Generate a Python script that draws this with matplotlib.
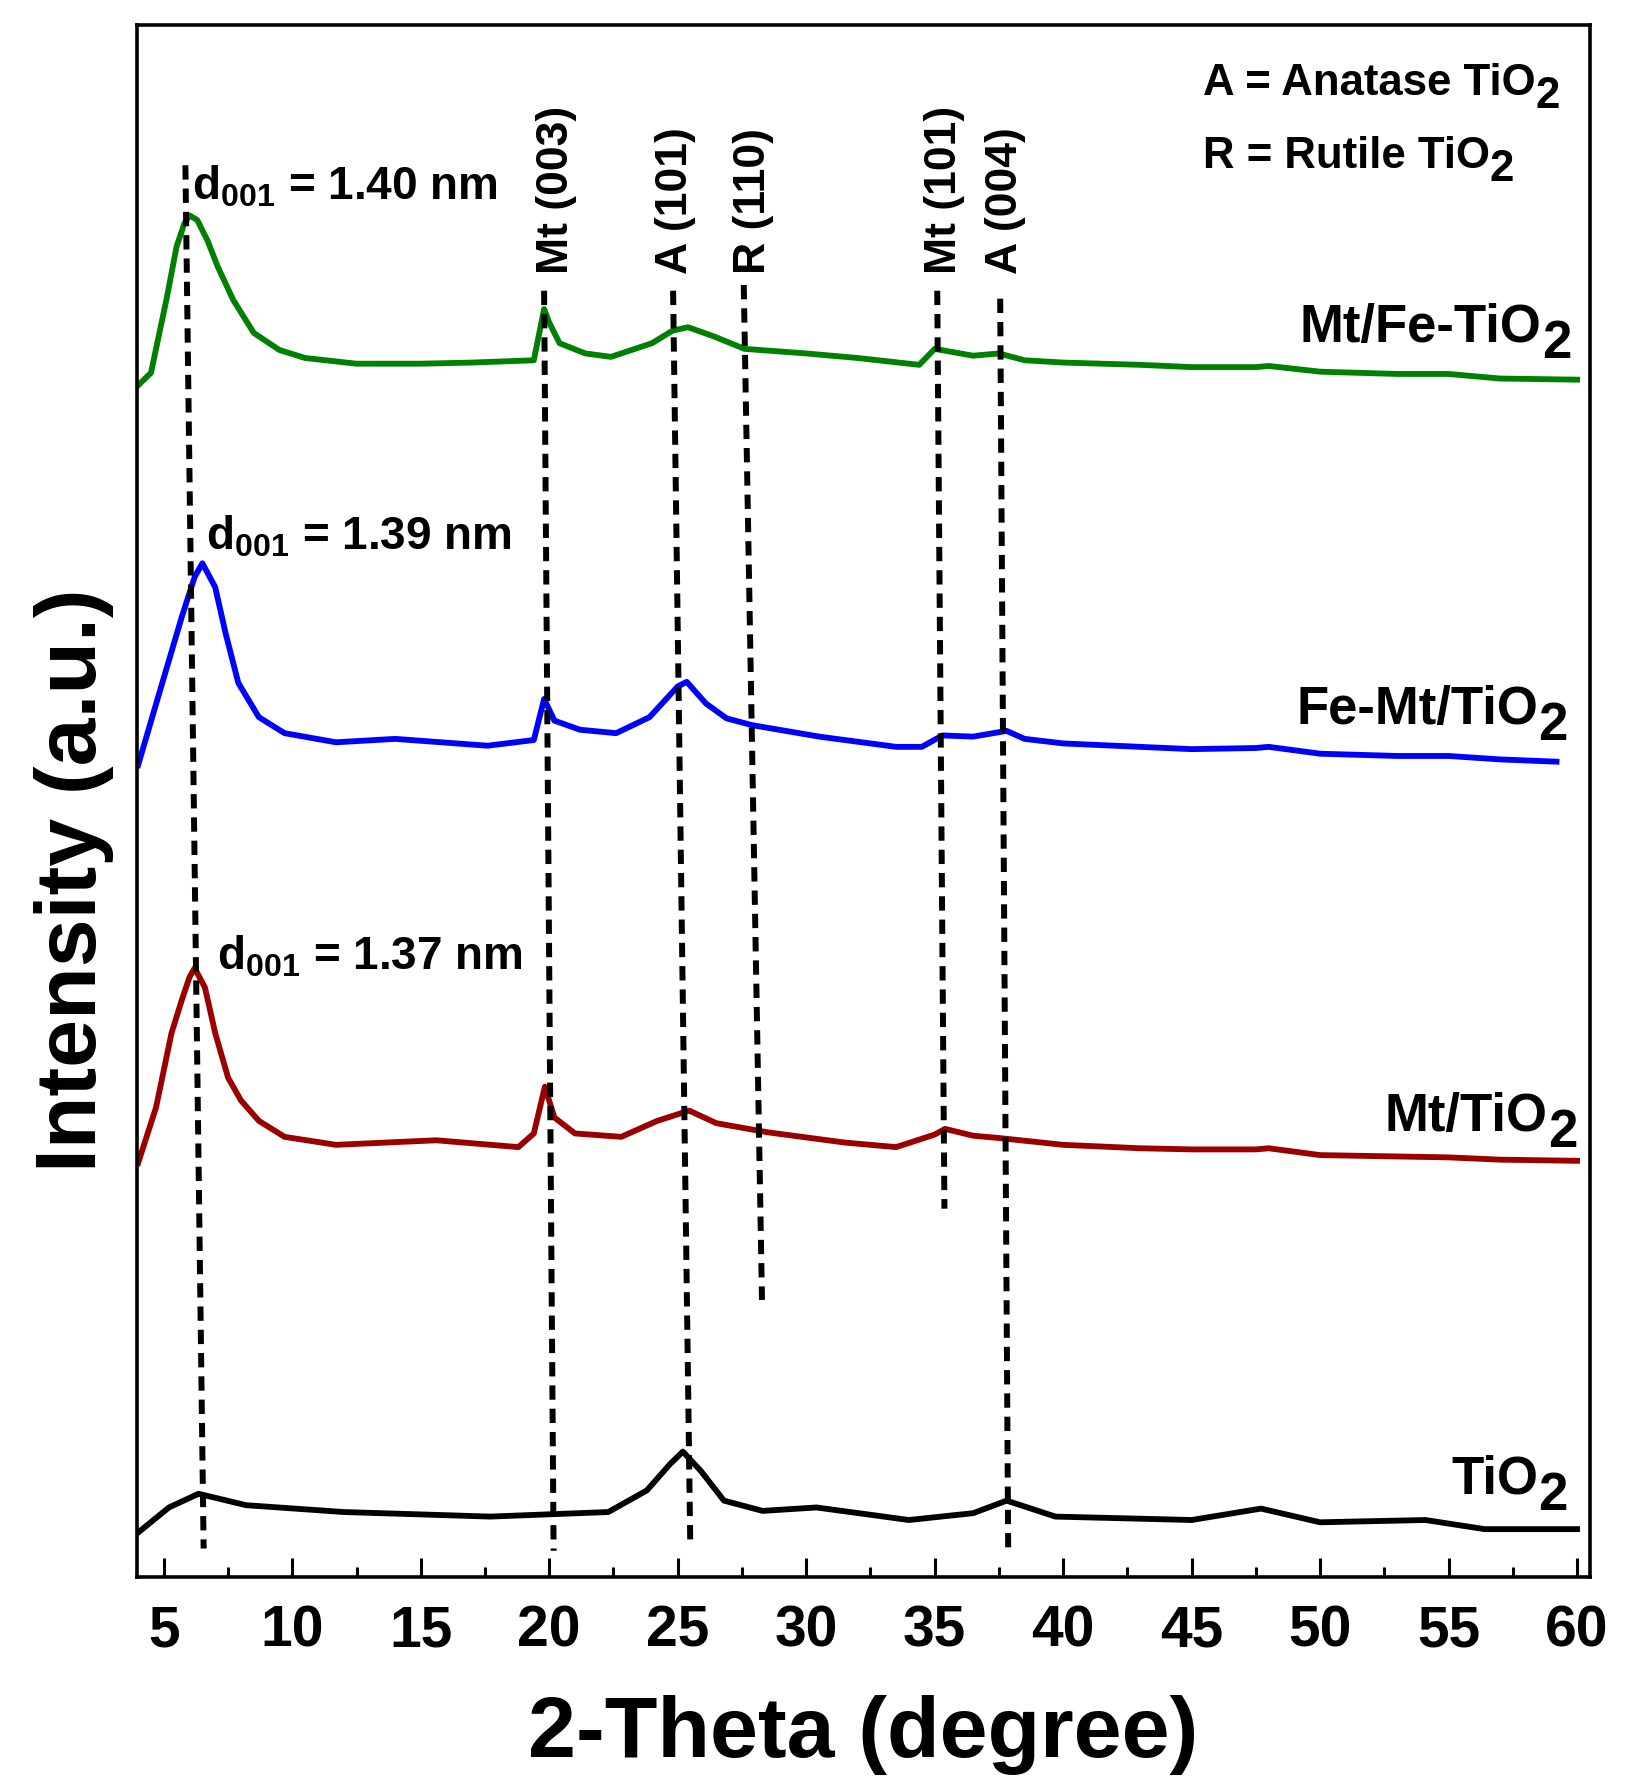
import matplotlib
matplotlib.use('Agg')
import matplotlib.pyplot as plt

plt.rcParams['font.family'] = ['Liberation Sans', 'DejaVu Sans']
plt.rcParams['font.weight'] = 'bold'
plt.rcParams['mathtext.fontset'] = 'custom'
plt.rcParams['mathtext.rm'] = 'Liberation Sans:bold'
plt.rcParams['mathtext.it'] = 'Liberation Sans:bold'
plt.rcParams['mathtext.bf'] = 'Liberation Sans:bold'

# XRD patterns (stacked intensity, a.u.)
x_mtfe = [4.0, 4.5, 5.1, 5.5, 5.8, 6.0, 6.3, 6.7, 7.1, 7.7, 8.5, 9.5, 10.5, 12.5, 15, 17, 19.4,
          19.8, 20.0, 20.4, 21.4, 22.4, 24.0, 24.8, 25.4, 26.4, 27.6, 30, 32, 34.4, 35.0, 35.5,
          36.5, 37.5, 38.5, 40, 43, 45, 47.5, 48, 50, 53, 55, 57, 60]
y_mtfe = [1045, 1056, 1120, 1167, 1187, 1194, 1190, 1172, 1149, 1120, 1091, 1076, 1069, 1064,
          1064, 1065, 1067, 1112, 1100, 1082, 1073, 1070, 1082, 1093, 1096, 1088, 1077, 1073, 1069,
          1063, 1077, 1075, 1071, 1073, 1067, 1065, 1063, 1061, 1061, 1062, 1057, 1055, 1055, 1051,
          1050]

x_femt = [4.0, 4.9, 5.7, 6.2, 6.5, 7.0, 7.4, 7.9, 8.7, 9.7, 11.7, 14.0, 17.6, 19.4, 19.8, 20.2,
          21.2, 22.6, 23.9, 25.0, 25.35, 26.1, 26.9, 27.9, 30.5, 33.5, 34.5, 35.3, 36.5, 37.8, 38.5,
          40, 43, 45, 47.5, 48, 50, 53, 55, 57, 59.2]
y_femt = [712, 781, 842, 877, 889, 868, 828, 784, 754, 740, 732, 735, 729, 734, 770, 751,
          743, 740, 754, 781, 785, 766, 753, 747, 737, 728, 728, 738, 737, 742, 735,
          731, 728, 726, 727, 728, 722, 720, 720, 717, 715]

x_mt = [4.0, 4.7, 5.3, 5.7, 6.0, 6.2, 6.6, 7.0, 7.5, 8.0, 8.7, 9.7, 11.7, 15.6, 18.8, 19.4, 19.83,
        20.2, 21.0, 22.8, 24.2, 25.45, 26.5, 28.5, 31.5, 33.5, 35.0, 35.4, 36.5, 37.5, 40, 43, 45,
        47.5, 48, 50, 55, 57, 60]
y_mt = [363, 412, 477, 506, 526, 534, 517, 477, 438, 418, 400, 386, 379, 383, 377, 389, 430,
        403, 389, 386, 400, 409, 398, 390, 381, 377, 388, 393, 387, 385, 379, 376, 375,
        375, 376, 370, 368, 366, 365]

x_tio2 = [4.0, 5.2, 6.35, 8.2, 12.0, 17.7, 22.3, 23.8, 24.7, 25.2, 25.9, 26.8, 28.3, 30.4, 34.0,
          36.5, 37.8, 39.7, 45.0, 47.7, 50.0, 54.1, 56.4, 60]
y_tio2 = [39, 61, 73, 63, 57, 53, 57, 76, 99, 110, 93, 67, 58, 61, 50,
          56, 67, 53, 50, 60, 48, 50, 42, 42]

series_names = ['Mt/Fe-TiO', 'Fe-Mt/TiO', 'Mt/TiO', 'TiO']
series_colors = ['#008000', '#0000ff', '#9a0000', 'black']

# reference reflections: (label, x top, y top, x bottom, y bottom)
ref_labels = ['Mt (003)', 'A (101)', 'R (110)', 'Mt (101)', 'A (004)']
ref_x_top = [19.8, 24.82, 27.57, 35.1, 37.55]
ref_y_top = [1128, 1128, 1133, 1128, 1121]
ref_x_bot = [20.17, 25.49, 28.28, 35.38, 37.86]
ref_y_bot = [23, 26, 243, 323, 26]
ref_label_x = [20.3, 24.9, 27.93, 35.38, 37.77]

d001_labels = ['1.40', '1.39', '1.37']


def sub2_right(ax, x, y, text, size):
    # text + full-size lowered "2", right aligned at (x, y)
    shift = 0.3 * size
    two = ax.annotate('2', xy=(x, y), xytext=(0, -shift), textcoords='offset points',
                      ha='right', va='baseline', fontsize=size, fontweight='bold')
    ax.annotate(text, xy=(0, 0), xycoords=two, xytext=(0, shift), textcoords='offset points',
                ha='right', va='bottom', fontsize=size, fontweight='bold')


def sub2_left(ax, x, y, text, size):
    shift = 0.3 * size
    main = ax.text(x, y, text, ha='left', va='baseline', fontsize=size, fontweight='bold')
    ax.annotate('2', xy=(1, 0), xycoords=main, xytext=(0, -shift), textcoords='offset points',
                ha='left', va='bottom', fontsize=size, fontweight='bold')


fig = plt.figure(figsize=(16.29, 17.87), dpi=100)
ax = fig.add_axes([0.084, 0.1175, 0.892, 0.8685])

for xs, ys, c in zip([x_mtfe, x_femt, x_mt, x_tio2], [y_mtfe, y_femt, y_mt, y_tio2], series_colors):
    ax.plot(xs, ys, color=c, lw=4.2, solid_joinstyle='round')

dash = (0, (2.4, 1.5))
# d001 line
ax.plot([5.84, 6.55], [1238, 25], color='black', lw=4.3, linestyle=dash)
for xt, yt, xb, yb in zip(ref_x_top, ref_y_top, ref_x_bot, ref_y_bot):
    ax.plot([xt, xb], [yt, yb], color='black', lw=4.3, linestyle=dash)

for lab, lx in zip(ref_labels, ref_label_x):
    ax.text(lx, 1143, lab, rotation=90, ha='center', va='bottom', fontsize=32, fontweight='bold')

# d-spacing labels
for val, tx, ty in zip(d001_labels, [6.11, 6.64, 7.08], [1208, 901, 533]):
    ax.text(tx, ty, 'd$_{001}$ = ' + val + ' nm', ha='left', va='baseline', fontsize=33,
            fontweight='bold')

# sample names
for name, tx, ty in zip(series_names, [59.77, 59.63, 60.0, 59.63], [1083, 748, 391, 73]):
    sub2_right(ax, tx, ty, name, 38)

sub2_left(ax, 45.44, 1300, 'A = Anatase TiO', 31.5)
sub2_left(ax, 45.44, 1236, 'R = Rutile TiO', 31.5)

ax.set_xlim(3.95, 60.5)
ax.set_ylim(0, 1361)
ax.set_xticks(range(5, 61, 5))
ax.set_xticks([x + 2.5 for x in range(5, 60, 5)], minor=True)
ax.set_yticks([])
ax.tick_params(axis='x', which='major', direction='in', length=14, width=2.2, labelsize=41, pad=20)
ax.tick_params(axis='x', which='minor', direction='in', length=7, width=2.2)
for sp in ax.spines.values():
    sp.set_linewidth(2.6)

ax.set_xlabel('2-Theta (degree)', fontsize=62, fontweight='bold', labelpad=26)
ax.set_ylabel('Intensity (a.u.)', fontsize=62, fontweight='bold')
ax.yaxis.set_label_coords(-0.016, 0.449)

fig.savefig('out.png', dpi=100)
